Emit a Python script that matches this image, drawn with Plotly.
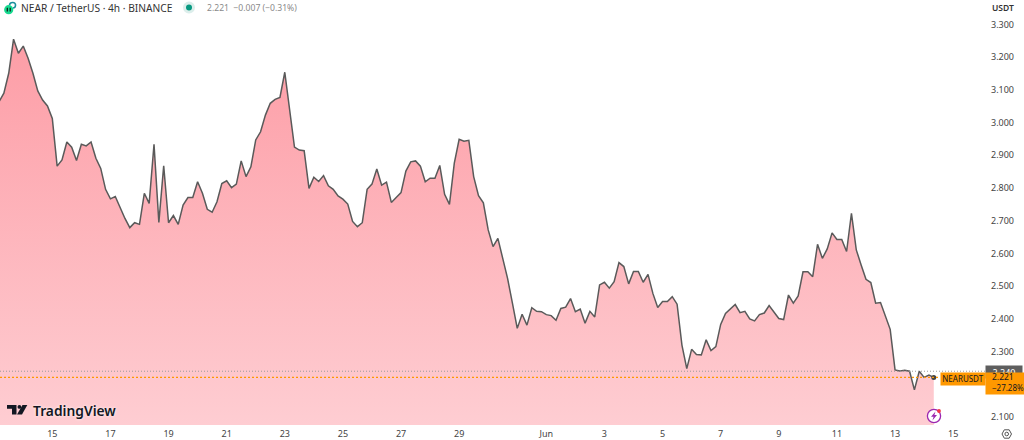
import pandas as pd
import plotly.graph_objects as go

# Close values (4h bars)
closes = [
    3.064, 3.090, 3.151, 3.255, 3.212, 3.234, 3.197, 3.151, 3.097, 3.069,
    3.051, 3.013, 2.867, 2.886, 2.941, 2.925, 2.884, 2.934, 2.929, 2.941,
    2.891, 2.860, 2.796, 2.767, 2.774, 2.738, 2.707, 2.679, 2.694, 2.689,
    2.784, 2.753, 2.934, 2.695, 2.868, 2.694, 2.716, 2.689, 2.748, 2.771,
    2.771, 2.819, 2.784, 2.735, 2.726, 2.758, 2.814, 2.822, 2.801, 2.812,
    2.883, 2.835, 2.865, 2.947, 2.972, 3.023, 3.059, 3.071, 3.077, 3.154,
    3.039, 2.925, 2.916, 2.914, 2.799, 2.833, 2.820, 2.838, 2.807, 2.796,
    2.776, 2.766, 2.751, 2.698, 2.682, 2.694, 2.796, 2.812, 2.858, 2.809,
    2.818, 2.756, 2.771, 2.786, 2.852, 2.880, 2.883, 2.867, 2.819, 2.830,
    2.830, 2.869, 2.781, 2.750, 2.876, 2.949, 2.943, 2.946, 2.835, 2.777,
    2.755, 2.672, 2.621, 2.646, 2.585, 2.524, 2.448, 2.371, 2.414, 2.381,
    2.434, 2.423, 2.422, 2.413, 2.410, 2.396, 2.432, 2.436, 2.462, 2.422,
    2.430, 2.387, 2.423, 2.406, 2.504, 2.512, 2.494, 2.514, 2.572, 2.560,
    2.507, 2.545, 2.545, 2.512, 2.536, 2.478, 2.435, 2.453, 2.453, 2.468,
    2.445, 2.320, 2.248, 2.307, 2.291, 2.290, 2.336, 2.303, 2.315, 2.383,
    2.417, 2.430, 2.444, 2.419, 2.423, 2.400, 2.394, 2.413, 2.418, 2.441,
    2.421, 2.401, 2.398, 2.473, 2.448, 2.470, 2.544, 2.544, 2.529, 2.628,
    2.585, 2.614, 2.663, 2.643, 2.643, 2.606, 2.723, 2.611, 2.565, 2.521,
    2.511, 2.448, 2.450, 2.412, 2.368, 2.244, 2.241, 2.243, 2.240, 2.183,
    2.240, 2.221, 2.228, 2.221,
]
times = pd.date_range("2024-05-13 04:00", periods=len(closes), freq="4h")

x_tick_vals = ["2024-05-15", "2024-05-17", "2024-05-19", "2024-05-21", "2024-05-23",
               "2024-05-25", "2024-05-27", "2024-05-29", "2024-06-01", "2024-06-03",
               "2024-06-05", "2024-06-07", "2024-06-09", "2024-06-11", "2024-06-13",
               "2024-06-15"]
x_tick_text = ["15", "17", "19", "21", "23", "25", "27", "29", "Jun", "3", "5", "7", "9", "11", "13", "15"]
y_tick_vals = [3.3, 3.2, 3.1, 3.0, 2.9, 2.8, 2.7, 2.6, 2.5, 2.4, 2.3, 2.1]
y_tick_text = ["3.300", "3.200", "3.100", "3.000", "2.900", "2.800", "2.700", "2.600",
               "2.500", "2.400", "2.300", "2.100"]
last_price = 2.221
prev_line = 2.240

PW, PH = 985, 425
FONT = "Noto Sans"


def X(px):
    return px / PW


def Y(py):
    return 1 - py / PH


def pts(*p):
    return "M" + " L".join(f"{X(a):.5f},{Y(b):.5f}" for a, b in p) + " Z"


def circle(cx, cy, r, fill, line=None, lw=0):
    return dict(type="circle", xref="paper", yref="paper", x0=X(cx - r), x1=X(cx + r),
                y0=Y(cy + r), y1=Y(cy - r), fillcolor=fill, layer="above",
                line=dict(color=line or fill, width=lw))


def poly(fill, *p):
    return dict(type="path", xref="paper", yref="paper", path=pts(*p), fillcolor=fill,
                layer="above", line=dict(width=0))


def label(px, py, text, size=9, color="#333", anchor="left", **kw):
    return dict(xref="paper", yref="paper", x=X(px), y=Y(py), text=text, showarrow=False,
                xanchor=anchor, yanchor="middle", font=dict(family=FONT, size=size, color=color, **kw.pop("fontkw", {})),
                borderpad=0, **kw)


fig = go.Figure()
fig.add_trace(go.Scatter(
    x=times, y=closes, mode="lines", line=dict(color="#5a5a5a", width=1.5),
    fill="tozeroy",
    fillgradient=dict(type="vertical", start=3.255, stop=2.076,
                      colorscale=[[0, "#fd9da6"], [1, "#fecdd2"]]),
    hoverinfo="skip", showlegend=False,
))
fig.add_trace(go.Scatter(
    x=[times[-1]], y=[closes[-1]], mode="markers",
    marker=dict(color="#444444", size=5), hoverinfo="skip", showlegend=False,
))

shapes = [
    dict(type="line", xref="paper", x0=0, x1=1, yref="y", y0=prev_line, y1=prev_line,
         line=dict(color="#9a9a9a", width=1, dash="1px,2px"), layer="above"),
    dict(type="line", xref="paper", x0=0, x1=X(940), yref="y", y0=last_price, y1=last_price,
         line=dict(color="#ff9800", width=1.2, dash="2px,2px"), layer="above"),
    # NEAR logo
    circle(8.7, 9.7, 4.6, "#16d98f"),
    dict(type="path", xref="paper", yref="paper",
         path=f"M{X(9.5):.5f},{Y(5):.5f} C{X(10):.5f},{Y(1.5):.5f} {X(16):.5f},{Y(1.5):.5f} {X(15.5):.5f},{Y(5.5):.5f} C{X(15.3):.5f},{Y(7.5):.5f} {X(13.5):.5f},{Y(8):.5f} {X(13):.5f},{Y(8):.5f}",
         line=dict(color="#1a8f9c", width=1.6), layer="above"),
    poly("#111111", (6.7, 7.7), (7.9, 7.7), (7.9, 11.5), (6.7, 11.5)),
    poly("#111111", (9.6, 7.7), (10.8, 7.7), (10.8, 11.5), (9.6, 11.5)),
    # status dot
    circle(189, 7.6, 6, "#dceeeb"),
    circle(189, 7.6, 3, "#089981"),
    # TradingView mark
    poly("#131722", (7, 405), (16.5, 405), (16.5, 414.5), (12, 414.5), (12, 408.7), (7, 408.7)),
    circle(19.4, 406.9, 1.9, "#131722"),
    poly("#131722", (22.5, 405), (27.3, 405), (22, 414.5), (17, 414.5)),
    # bolt icon
    circle(934, 416, 6.6, "#ffffff", "#9c27b0", 1.3),
    poly("#9c27b0", (935.5, 411.5), (931, 416.8), (933.6, 416.8), (932.4, 420.5), (937, 415), (934.4, 415)),
    circle(939, 411, 1.9, "#f23645"),
    # settings icon
    dict(type="path", xref="paper", yref="paper", layer="above", fillcolor="rgba(0,0,0,0)",
         path=pts((1002, 434), (1004.3, 429.8), (1009.2, 429.8), (1011.5, 434), (1009.2, 438.2), (1004.3, 438.2)),
         line=dict(color="#555", width=1)),
    circle(1006.7, 434, 1.8, "rgba(0,0,0,0)", "#555", 1),
]

annotations = [
    label(20, 8, "NEAR / TetherUS · 4h · BINANCE", size=10.2, color="#333"),
    label(206, 8, "2.221  −0.007 (−0.31%)", size=8.6, color="#8a8a8a"),
    label(32, 410, "TradingView", size=13.8, color="#131722",
          fontkw=dict(weight=600, shadow="0 0 3px #fff")),
    label(990.5, 7.5, "USDT", size=8.5, color="#333", fontkw=dict(weight=600)),
    dict(xref="paper", yref="paper", x=X(985), y=Y(365), xanchor="left", yanchor="top",
         width=36, height=12, bgcolor="#5e5e5e", text="2.240", showarrow=False, borderpad=0,
         font=dict(family=FONT, size=9, color="#ffffff")),
    dict(xref="paper", yref="paper", x=X(940), y=Y(372), xanchor="left", yanchor="top",
         width=44, height=11.5, bgcolor="#ff9800", text="NEARUSDT", showarrow=False, borderpad=0,
         font=dict(family=FONT, size=8, color="#131722")),
    dict(xref="paper", yref="paper", x=X(985.5), y=Y(372), xanchor="left", yanchor="top",
         width=38.5, height=21, bgcolor="#ff9800", text=" ", showarrow=False, borderpad=0,
         font=dict(family=FONT, size=8, color="#131722")),
    label(990.5, 376.8, "2.221", size=8.5, color="#131722"),
    label(990.5, 387.4, "−27.28%", size=8, color="#131722"),
]

fig.update_layout(
    width=1024, height=440,
    margin=dict(l=0, r=39, t=0, b=15),
    paper_bgcolor="#ffffff", plot_bgcolor="#ffffff",
    showlegend=False,
    shapes=shapes, annotations=annotations,
    xaxis=dict(type="date", range=["2024-05-13 04:48", "2024-06-16 02:18"],
               tickmode="array", tickvals=x_tick_vals, ticktext=x_tick_text,
               showgrid=False, zeroline=False, showline=False, ticks="",
               ticklabelstandoff=2,
               tickfont=dict(family=FONT, size=9, color="#444")),
    yaxis=dict(side="right", range=[2.0756, 3.3749], tickmode="array",
               tickvals=y_tick_vals, ticktext=y_tick_text,
               showgrid=False, zeroline=False, showline=False, ticks="",
               ticklabelstandoff=5,
               tickfont=dict(family=FONT, size=9, color="#444")),
)

fig.write_html("out.html", config=dict(displayModeBar=False),
               post_script="document.documentElement.style.overflow='hidden';document.body.style.margin='0';")
